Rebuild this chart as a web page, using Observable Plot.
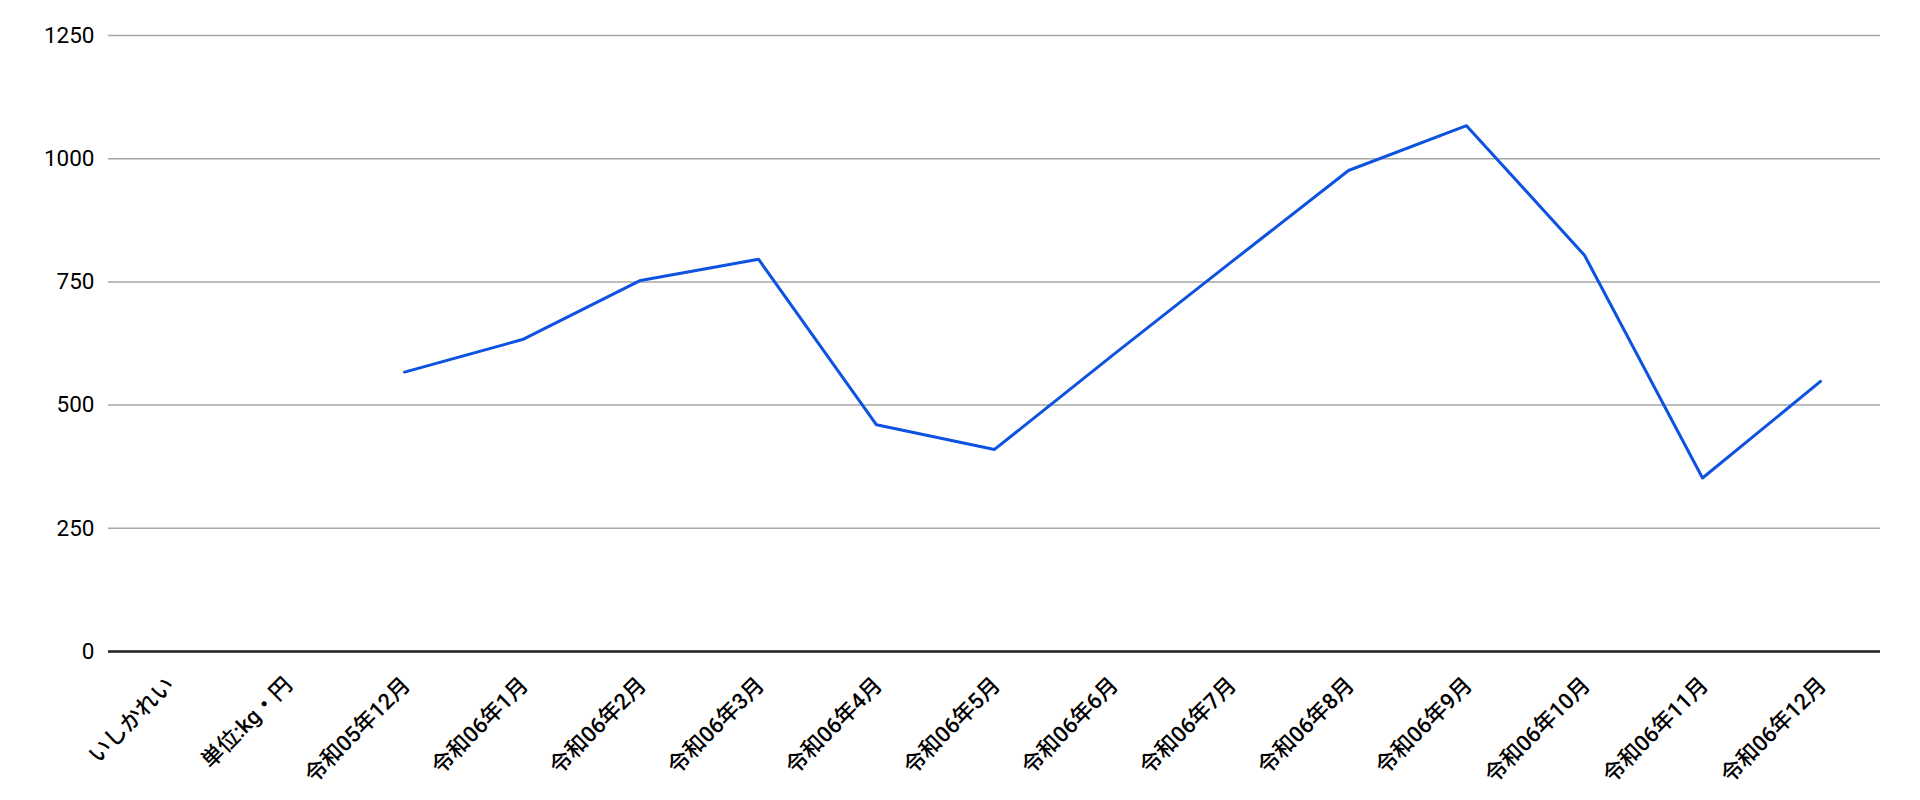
<!DOCTYPE html>
<html>
<head>
<meta charset="utf-8">
<script src="https://cdn.jsdelivr.net/npm/d3@7"></script>
<script src="https://cdn.jsdelivr.net/npm/@observablehq/plot@0.6"></script>
<style>
  html, body { margin: 0; padding: 0; background: #fff; }
  #chart { width: 1920px; height: 800px; }
</style>
</head>
<body>
<div id="chart"></div>
<script>
const categories = [
  "いしかれい", "単位:kg・円", "令和05年12月", "令和06年1月", "令和06年2月",
  "令和06年3月", "令和06年4月", "令和06年5月", "令和06年6月", "令和06年7月",
  "令和06年8月", "令和06年9月", "令和06年10月", "令和06年11月", "令和06年12月"
];
const prices = [null, null, 567, 633, 753, 796, 460, 410, 601, 789, 976, 1067, 804, 352, 548];
const yTicks = [0, 250, 500, 750, 1000, 1250];

const data = categories
  .map((c, i) => ({ category: c, value: prices[i] }))
  .filter(d => d.value != null);

const fontFamily = "Roboto, 'Noto Sans CJK JP', sans-serif";

const chart = Plot.plot({
  width: 1920,
  height: 800,
  marginLeft: 108,
  marginRight: 40,
  marginTop: 35,
  marginBottom: 149,
  style: { fontFamily, fontSize: "22px", color: "#000", background: "#fff" },
  x: { type: "point", domain: categories, padding: 0.5 },
  y: { domain: [0, 1250] },
  marks: [
    Plot.gridY(yTicks, { stroke: "#a6a6a6", strokeOpacity: 1, strokeWidth: 1.5 }),
    Plot.ruleY([0], { stroke: "#222", strokeWidth: 2.5 }),
    Plot.line(data, { x: "category", y: "value", stroke: "#0d52e0", strokeWidth: 3 }),
    Plot.axisY({ ticks: yTicks, tickFormat: d => String(d), tickSize: 0, tickPadding: 14, label: null, fontSize: 22.5 }),
    Plot.axisX({ tickSize: 0, tickRotate: -45, tickPadding: 30, dx: 2, label: null, fontSize: 22, fontWeight: 500 })
  ]
});
document.getElementById("chart").appendChild(chart);
</script>
</body>
</html>
